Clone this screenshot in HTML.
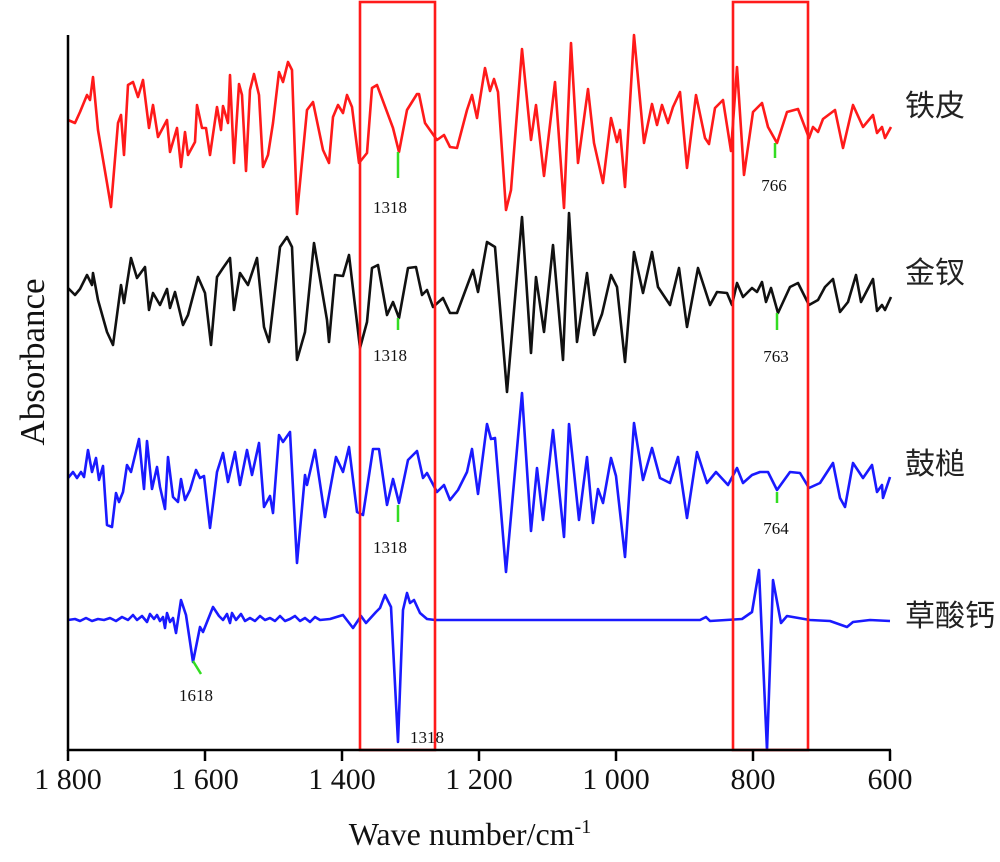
<!DOCTYPE html>
<html><head><meta charset="utf-8"><style>html,body{margin:0;padding:0;background:#fff}svg{display:block}</style></head>
<body>
<svg width="1000" height="862" viewBox="0 0 1000 862" xmlns="http://www.w3.org/2000/svg">
<g fill="none" stroke-width="2.6" stroke-linejoin="round">
<polyline stroke="#ff1a1a" points="68,120 75,123 80,112 87,95 90,100 93,77 98,130 107,183 111,207 118,123 121,115 124,155 128,85 133,82 138,97 143,80 149,128 153,105 158,137 167,120 170,152 177,128 181,167 185,132 188,155 195,142 197,105 202,128 206,128 210,155 217,107 221,130 223,106 228,123 230,75 234,163 239,84 242,95 246,171 250,90 254,74 259,95 263,167 268,155 273,123 279,72 283,82 288,62 292,70 297,214 307,110 313,102 323,150 329,163 333,117 338,105 343,113 347,95 352,107 359,163 367,153 372,88 377,85 393,128 399,152 407,110 417,94 419,94 425,123 437,140 444,135 450,147 457,148 467,110 472,95 477,118 485,68 490,91 494,79 498,92 506,210 511,190 522,49 531,140 536,105 544,176 555,82 564,208 571,43 578,163 588,89 594,143 603,183 611,118 617,142 620,130 625,187 634,35 644,143 652,104 657,125 662,105 668,123 673,107 680,92 687,168 696,95 705,138 709,144 715,108 723,100 731,151 737,67 744,175 753,112 762,103 768,127 777,143 787,112 798,109 809,138 813,127 818,132 823,119 835,110 843,148 853,105 863,127 873,115 877,133 882,127 885,138 891,127"/>
<polyline stroke="#111" points="68,288 75,295 80,289 87,275 92,285 93,273 98,300 107,332 113,345 121,285 124,303 131,258 137,278 145,267 149,310 153,293 160,305 167,289 170,308 175,292 183,325 188,315 198,277 205,293 211,345 217,277 223,268 230,258 234,310 240,273 248,285 257,258 264,327 269,342 280,247 287,237 292,247 297,360 305,332 314,243 327,320 329,342 335,275 343,276 349,255 360,348 367,322 372,268 378,265 387,315 393,302 399,318 408,268 416,267 422,295 427,290 433,307 443,298 450,313 457,313 473,270 478,292 487,242 495,247 507,392 522,217 531,353 536,277 544,332 553,245 563,360 569,213 577,342 587,273 594,335 602,314 611,275 617,287 625,362 634,252 643,293 652,252 658,287 670,305 679,268 687,327 698,268 710,305 717,292 727,293 732,305 737,283 743,297 752,288 757,292 762,282 766,302 771,288 778,313 790,287 798,283 809,305 818,300 825,287 833,279 840,312 848,302 856,275 861,302 873,279 877,311 882,305 885,310 891,297"/>
<polyline stroke="#1a1aff" points="68,478 73,472 77,478 81,472 84,477 88,450 92,472 96,458 99,480 103,466 107,525 112,527 116,493 119,502 123,492 127,465 131,472 139,439 144,489 147,441 152,489 157,467 160,487 165,509 168,457 173,497 178,502 181,479 185,500 190,490 196,470 200,478 204,476 210,528 217,472 223,453 228,482 235,452 240,485 247,450 252,475 259,443 264,507 270,496 273,513 279,435 283,442 290,432 297,563 305,475 307,485 315,450 325,517 336,457 343,472 349,447 357,512 363,515 373,449 379,449 387,505 393,479 399,503 408,460 417,451 423,478 427,473 437,492 444,485 450,500 458,490 467,472 472,449 478,494 487,424 491,439 495,438 506,572 522,393 531,531 537,468 543,520 553,430 564,537 569,424 579,520 587,457 593,523 598,489 603,503 611,458 616,476 625,557 634,423 643,480 652,448 660,478 670,483 678,457 687,518 697,452 707,483 716,472 728,485 737,468 743,483 752,475 760,472 768,472 777,490 790,472 800,473 809,488 820,483 833,463 840,498 845,507 853,463 863,478 872,465 877,492 882,485 883,498 890,477"/>
<polyline stroke="#1a1aff" points="68,620 75,619 80,621 86,618 92,621 98,619 104,620 110,618 116,621 122,617 128,620 133,615 137,620 142,616 147,622 150,614 154,619 157,615 160,621 163,617 165,628 167,613 170,622 173,618 176,633 181,600 186,615 193,662 200,627 203,632 213,607 219,616 223,620 227,614 230,623 232,613 236,620 241,614 245,621 250,618 255,621 260,616 265,620 270,618 275,621 280,616 285,621 290,619 295,616 300,621 305,618 310,622 315,617 320,620 330,619 343,615 353,628 361,616 366,623 376,612 380,608 385,595 391,607 398,742 403,610 407,593 410,603 414,600 420,613 427,619 435,620 500,620 560,620 620,620 680,620 700,620 706,617 710,621 742,619 752,612 759,570 767,750 773,580 781,623 787,616 810,620 830,621 847,627 853,622 870,620 890,621"/>
</g>
<g stroke="#33dd22" stroke-width="2.5">
<line x1="398" y1="152" x2="398" y2="178"/><line x1="775" y1="143" x2="775" y2="158"/>
<line x1="398" y1="318" x2="398" y2="330"/><line x1="777" y1="313" x2="777" y2="330"/>
<line x1="398" y1="505" x2="398" y2="522"/><line x1="777" y1="492" x2="777" y2="503"/>
<line x1="193" y1="661" x2="201" y2="674"/>
</g>
<g fill="none" stroke="#ff1a1a" stroke-width="2.6">
<rect x="360" y="2" width="75" height="748"/>
<rect x="733" y="2" width="75" height="748"/>
</g>
<g stroke="#000" stroke-width="2.5">
<line x1="68" y1="35" x2="68" y2="751"/>
<line x1="67" y1="750" x2="891" y2="750"/>
<line x1="68" y1="750" x2="68" y2="761"/><line x1="205" y1="750" x2="205" y2="761"/><line x1="342" y1="750" x2="342" y2="761"/><line x1="479" y1="750" x2="479" y2="761"/><line x1="616" y1="750" x2="616" y2="761"/><line x1="753" y1="750" x2="753" y2="761"/><line x1="890" y1="750" x2="890" y2="761"/>
</g>
<g font-family="Liberation Serif, serif" fill="#111">
<g font-size="17" text-anchor="middle">
<text x="390" y="213">1318</text><text x="774" y="191">766</text>
<text x="390" y="361">1318</text><text x="776" y="362">763</text>
<text x="390" y="553">1318</text><text x="776" y="534">764</text>
<text x="196" y="701">1618</text><text x="427" y="743">1318</text>
</g>
<g font-size="30" text-anchor="middle">
<text x="68" y="789">1 800</text><text x="205" y="789">1 600</text><text x="342" y="789">1 400</text><text x="479" y="789">1 200</text><text x="616" y="789">1 000</text><text x="753" y="789">800</text><text x="890" y="789">600</text>
</g>
<text x="470" y="845" font-size="32" text-anchor="middle">Wave number/cm<tspan font-size="20" dy="-12">-1</tspan></text>
<text transform="translate(44,362) rotate(-90)" font-size="35" text-anchor="middle">Absorbance</text>
</g>
<g font-family="Liberation Sans, 'Noto Sans CJK SC', sans-serif" font-size="30" fill="#222">
<text x="905" y="116">铁皮</text>
<text x="905" y="283">金钗</text>
<text x="905" y="474">鼓槌</text>
<text x="905" y="626">草酸钙</text>
</g>
</svg>
</body></html>
